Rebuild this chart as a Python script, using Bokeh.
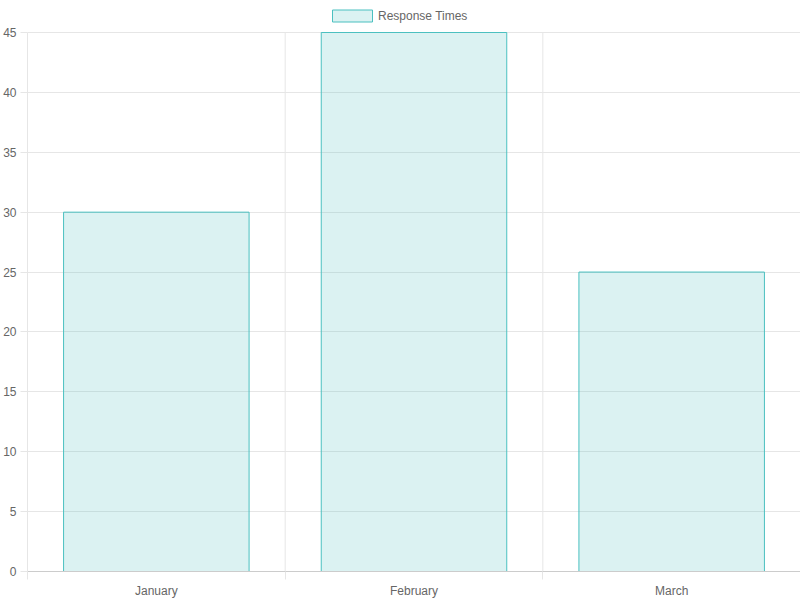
import numpy as np
from bokeh.plotting import figure
from bokeh.models import (Range1d, LinearAxis, FixedTicker,
                          Legend, LegendItem, ColumnDataSource)
from bokeh.embed import file_html
from bokeh.resources import INLINE

months = ["January", "February", "March"]
response_times = [30, 45, 25]
series_name = "Response Times"
y_ticks = [0, 5, 10, 15, 20, 25, 30, 35, 40, 45]

FONT = "Liberation Sans"
TXT = "#666666"
GRID = "#e6e6e6"

# layout (pixels): frame spans from the top of the figure down to the x axis;
# the value axis starts TOP_GAP pixels below the top, leaving room for the legend
FRAME_H = 571
TOP_GAP = 32
y_max = y_ticks[-1]
y_end = y_max * FRAME_H / (FRAME_H - TOP_GAP)

n = len(months)
centers = (np.arange(n) + 0.5).tolist()
bounds = list(range(n + 1))

src = ColumnDataSource(dict(x=centers, value=response_times, month=months))

p = figure(x_range=Range1d(0, n), y_range=Range1d(0, y_end),
           width=800, height=600, output_backend="svg", toolbar_location=None,
           x_axis_location=None, y_axis_location="left",
           min_border_left=0, min_border_right=0, min_border_top=0, min_border_bottom=0)
p.outline_line_color = None
p.xgrid.visible = False
p.ygrid.grid_line_color = GRID
p.ygrid.ticker = FixedTicker(ticks=y_ticks)

# vertical grid lines at category boundaries, up to the top tick
p.segment(x0=bounds, y0=[0] * len(bounds), x1=bounds, y1=[y_max] * len(bounds),
          line_color=GRID, line_width=1)

r = p.vbar(x="x", top="value", width=0.72, source=src,
           fill_color="rgb(75,192,192)", fill_alpha=0.2,
           line_color="rgb(75,192,192)", line_width=1)

yax = p.yaxis[0]
yax.ticker = FixedTicker(ticks=y_ticks)
yax.bounds = (0, y_max)
yax.axis_line_color = GRID
yax.major_tick_line_color = GRID
yax.major_tick_out = 7
yax.major_tick_in = 0
yax.minor_tick_line_color = None
yax.major_label_standoff = 4
yax.major_label_text_font = FONT
yax.major_label_text_font_size = "12px"
yax.major_label_text_color = TXT

tick_axis = LinearAxis(ticker=FixedTicker(ticks=bounds),
                       major_label_overrides={t: "" for t in bounds},
                       major_label_text_font_size="0px", major_label_standoff=0,
                       axis_line_color="#cccccc", major_tick_line_color=GRID,
                       major_tick_out=8, major_tick_in=0, minor_tick_line_color=None)
p.add_layout(tick_axis, "below")

cat_axis = LinearAxis(ticker=FixedTicker(ticks=centers),
                      major_label_overrides={c: m for c, m in zip(centers, months)},
                      axis_line_color=None, major_tick_line_color=None,
                      major_tick_out=0, major_tick_in=0, major_label_standoff=4,
                      minor_tick_line_color=None,
                      major_label_text_font=FONT, major_label_text_font_size="12px",
                      major_label_text_color=TXT)
p.add_layout(cat_axis, "below")

legend = Legend(items=[LegendItem(label=series_name, renderers=[r])],
                orientation="horizontal", location=(300, 548),
                glyph_width=50, glyph_height=15, label_height=15,
                label_text_font=FONT, label_text_font_size="12px", label_text_color=TXT,
                label_standoff=1, padding=0, margin=0, spacing=0,
                border_line_color=None, background_fill_alpha=0)
p.add_layout(legend)

open("out.html", "w").write(file_html(p, INLINE))
